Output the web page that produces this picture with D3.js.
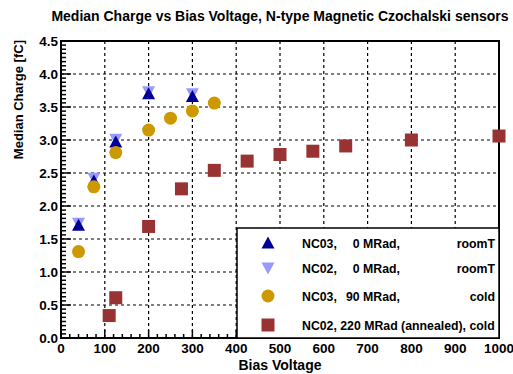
<!DOCTYPE html>
<html>
<head>
<meta charset="utf-8">
<script src="https://cdn.jsdelivr.net/npm/d3@7"></script>
<style>
  body { margin: 0; background: #fff; }
  svg text { font-family: "Liberation Sans", Arial, Helvetica, sans-serif; font-weight: bold; }
</style>
</head>
<body>
<div id="chart"></div>
<script>
// data
const nc03RoomV = [40, 75, 125, 200, 300];
const nc03RoomQ = [1.71, 2.38, 2.97, 3.70, 3.66];

const nc02RoomV = [40, 75, 125, 200, 300];
const nc02RoomQ = [1.74, 2.42, 3.01, 3.73, 3.70];

const nc03ColdV = [40, 75, 125, 200, 250, 300, 350];
const nc03ColdQ = [1.31, 2.29, 2.81, 3.15, 3.33, 3.44, 3.56];

const nc02ColdV = [110, 125, 200, 275, 350, 425, 500, 575, 650, 800, 1000];
const nc02ColdQ = [0.34, 0.61, 1.69, 2.26, 2.54, 2.68, 2.78, 2.83, 2.91, 3.00, 3.06];

const xTicks = [0, 100, 200, 300, 400, 500, 600, 700, 800, 900, 1000];
const yTicks = [0, 0.5, 1, 1.5, 2, 2.5, 3, 3.5, 4, 4.5];

const legendNames = ['NC03,', 'NC02,', 'NC03,', 'NC02, 220 MRad (annealed), cold'];
const legendDose = ['0 MRad,', '0 MRad,', '90 MRad,', ''];
const legendCond = ['roomT', 'roomT', 'cold', ''];

const W = 513, H = 374;
const margin = { top: 41, right: 14, bottom: 36, left: 61 };
const width = W - margin.left - margin.right;
const height = H - margin.top - margin.bottom;

const svg = d3.select('#chart')
    .append('svg')
    .attr('width', W)
    .attr('height', H);

const g = svg.append('g')
    .attr('transform', `translate(${margin.left}, ${margin.top})`);

const x = d3.scaleLinear().domain([0, 1000]).range([0, width]);
const y = d3.scaleLinear().domain([0, 4.5]).range([height, 0]);

// grid
g.selectAll('.vgrid')
    .data(xTicks.slice(1, -1))
    .enter()
    .append('line')
    .attr('x1', d => x(d)).attr('x2', d => x(d))
    .attr('y1', 0).attr('y2', height)
    .attr('stroke', '#000')
    .attr('stroke-width', 1.2)
    .attr('stroke-dasharray', '3,3');

g.selectAll('.hgrid')
    .data(yTicks.slice(1, -1))
    .enter()
    .append('line')
    .attr('y1', d => y(d)).attr('y2', d => y(d))
    .attr('x1', 0).attr('x2', width)
    .attr('stroke', '#000')
    .attr('stroke-width', 1.2)
    .attr('stroke-dasharray', '3,3');

// minor ticks, ROOT style (inside frame)
const yMinor = d3.range(0, 4.5001, 0.0625);
g.selectAll('.ymin')
    .data(yMinor)
    .enter()
    .append('line')
    .attr('x1', 0)
    .attr('x2', d => Math.abs(d * 2 - Math.round(d * 2)) < 1e-6 ? 10 : 5)
    .attr('y1', d => y(d)).attr('y2', d => y(d))
    .attr('stroke', '#000')
    .attr('stroke-width', 1.5);

const xMinor = d3.range(0, 1000.1, 20);
g.selectAll('.xmin')
    .data(xMinor)
    .enter()
    .append('line')
    .attr('x1', d => x(d)).attr('x2', d => x(d))
    .attr('y1', height)
    .attr('y2', d => d % 100 === 0 ? height - 8 : height - 4)
    .attr('stroke', '#000')
    .attr('stroke-width', 1.5);

// frame
g.append('rect')
    .attr('width', width)
    .attr('height', height)
    .attr('fill', 'none')
    .attr('stroke', '#000')
    .attr('stroke-width', 2);

// tick labels
g.selectAll('.xlab')
    .data(xTicks)
    .enter()
    .append('text')
    .attr('x', d => x(d))
    .attr('y', height + 15)
    .attr('text-anchor', 'middle')
    .attr('font-size', 13.5)
    .text(d => d);

g.selectAll('.ylab')
    .data(yTicks)
    .enter()
    .append('text')
    .attr('x', -3)
    .attr('y', d => y(d) + 4.5)
    .attr('text-anchor', 'end')
    .attr('font-size', 13.5)
    .text(d => d3.format('.1f')(d));

// titles
svg.append('text')
    .attr('x', 280)
    .attr('y', 21)
    .attr('text-anchor', 'middle')
    .attr('font-size', 14)
    .text('Median Charge vs Bias Voltage, N-type Magnetic Czochalski sensors');

svg.append('text')
    .attr('x', margin.left + width / 2)
    .attr('y', 370)
    .attr('text-anchor', 'middle')
    .attr('font-size', 14)
    .text('Bias Voltage');

svg.append('text')
    .attr('transform', 'translate(23, 40) rotate(-90)')
    .attr('text-anchor', 'end')
    .attr('font-size', 13)
    .text('Median Charge [fC]');

// markers
const series = [
    { v: nc02RoomV, q: nc02RoomQ, color: '#9999ff', shape: 'down' },
    { v: nc03RoomV, q: nc03RoomQ, color: '#000099', shape: 'up' },
    { v: nc03ColdV, q: nc03ColdQ, color: '#cc9900', shape: 'circle' },
    { v: nc02ColdV, q: nc02ColdQ, color: '#993333', shape: 'square' }
];

function drawMarker(sel, shape, color) {
    if (shape === 'circle') {
        sel.append('circle').attr('r', 6.5).attr('fill', color);
    } else if (shape === 'square') {
        sel.append('rect').attr('x', -6.5).attr('y', -6.5)
            .attr('width', 13).attr('height', 13).attr('fill', color);
    } else if (shape === 'up') {
        sel.append('path').attr('d', 'M-6.5,5.5L6.5,5.5L0,-6.5Z').attr('fill', color);
    } else {
        sel.append('path').attr('d', 'M-6.5,-5.5L6.5,-5.5L0,6.5Z').attr('fill', color);
    }
}

series.forEach(s => {
    const pts = s.v.map((v, i) => ({ v: v, q: s.q[i] }));
    g.selectAll(null)
        .data(pts)
        .enter()
        .append('g')
        .attr('transform', d => `translate(${x(d.v)}, ${y(d.q)})`)
        .each(function() { drawMarker(d3.select(this), s.shape, s.color); });
});

// legend
const legend = svg.append('g');
legend.append('rect')
    .attr('x', 237)
    .attr('y', 228)
    .attr('width', 262)
    .attr('height', 110)
    .attr('fill', '#fff')
    .attr('stroke', '#000')
    .attr('stroke-width', 1.5);

const legendShapes = [
    { color: '#000099', shape: 'up' },
    { color: '#9999ff', shape: 'down' },
    { color: '#cc9900', shape: 'circle' },
    { color: '#993333', shape: 'square' }
];
const rowY = [243, 268, 296, 325];

legendShapes.forEach((s, i) => {
    const row = legend.append('g').attr('transform', `translate(0, ${rowY[i]})`);
    drawMarker(row.append('g').attr('transform', 'translate(268, 0)'), s.shape, s.color);
    row.append('text').attr('x', 302).attr('y', 4.5).attr('font-size', 12.3).text(legendNames[i]);
    row.append('text').attr('x', 400).attr('y', 4.5).attr('font-size', 12.3)
        .attr('text-anchor', 'end').text(legendDose[i]);
    row.append('text').attr('x', 495).attr('y', 4.5).attr('font-size', 12.3)
        .attr('text-anchor', 'end').text(legendCond[i]);
});
</script>
</body>
</html>
